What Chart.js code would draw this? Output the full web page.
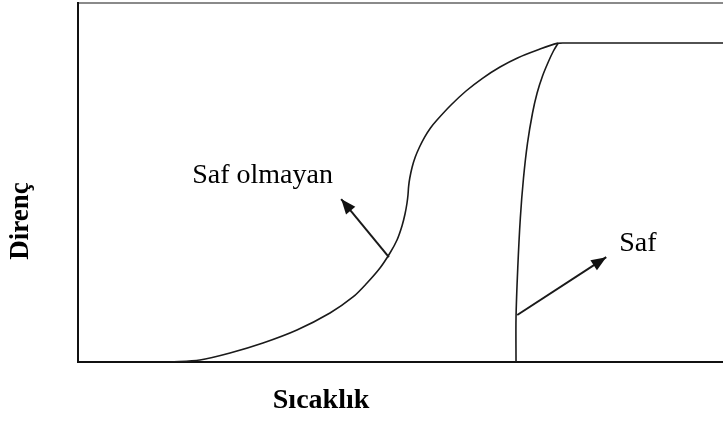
<!DOCTYPE html>
<html>
<head>
<meta charset="utf-8">
<script src="https://cdn.jsdelivr.net/npm/chart.js@4"></script>
<style>
  html, body { margin: 0; padding: 0; background: #fff; }
  #kutu { width: 723px; height: 426px; position: relative; }
</style>
</head>
<body>
<div id="kutu"><canvas id="direncChart"></canvas></div>
<script>
// Eğri verileri (sıcaklık = x, direnç = y; 0-100 keyfi birim)
const safOlmayanX = [14.3, 18.9, 23.57, 28.68, 33.95, 39.07, 42.64, 44.81, 46.82, 48.37, 49.46, 50.23, 50.70, 51.01, 51.16, 51.26, 51.44, 51.80, 52.29, 52.95, 53.72, 54.62, 55.66, 57.83, 60.16, 62.71, 65.43, 68.22, 71.24, 74.26, 75.81, 77.83, 100];
const safOlmayanY = [0, 0.56, 2.51, 5.29, 8.91, 13.65, 18.11, 22.01, 26.18, 30.36, 33.98, 37.88, 41.23, 44.29, 46.52, 48.91, 51.25, 54.26, 57.10, 59.89, 62.59, 65.13, 67.41, 71.59, 75.49, 79.03, 82.17, 84.76, 86.91, 88.75, 88.86, 88.86, 88.86];

const safX = [67.91, 67.91, 68.18, 68.58, 69.07, 69.69, 70.47, 71.18, 72.02, 72.91, 73.71, 74.45];
const safY = [0, 12.26, 26.18, 40.11, 51.25, 60.97, 69.36, 74.93, 79.67, 83.57, 86.63, 88.86];

// Oklar (başlangıç -> uç)
const okSafOlmayanX = [48.2, 40.8];
const okSafOlmayanY = [29.2, 45.4];
const okSafX = [68.1, 81.9];
const okSafY = [13.1, 29.2];

// Yazılar
const etiketMetin = ['Saf olmayan', 'Saf'];
const eksenX = 'Sıcaklık';
const eksenY = 'Direnç';

function noktalar(xs, ys) {
    return xs.map(function (x, i) { return { x: x, y: ys[i] }; });
}

// Ok başları
const okBasi = {
    id: 'okBasi',
    afterDatasetsDraw: function (chart) {
        var ctx = chart.ctx;
        chart.data.datasets.forEach(function (ds, i) {
            if (!ds.ok) return;
            var pts = chart.getDatasetMeta(i).data;
            var a = pts[pts.length - 2], b = pts[pts.length - 1];
            var ang = Math.atan2(b.y - a.y, b.x - a.x);
            var L = 15, W = 6;
            ctx.save();
            ctx.translate(b.x, b.y);
            ctx.rotate(ang);
            ctx.beginPath();
            ctx.moveTo(0, 0);
            ctx.lineTo(-L, -W);
            ctx.lineTo(-L, W);
            ctx.closePath();
            ctx.fillStyle = '#111';
            ctx.fill();
            ctx.restore();
        });
    }
};

// Etiketler ve eksen başlıkları (ölçek değerlerinden konumlanır)
const yazilar = {
    id: 'yazilar',
    afterDraw: function (chart) {
        var ctx = chart.ctx;
        var sx = chart.scales.x, sy = chart.scales.y;
        ctx.save();
        ctx.fillStyle = '#000';
        ctx.textBaseline = 'alphabetic';
        ctx.textAlign = 'left';
        ctx.font = '28px "Liberation Serif", "Times New Roman", serif';
        ctx.fillText(etiketMetin[0], sx.getPixelForValue(17.7), sy.getPixelForValue(49.9));
        ctx.fillText(etiketMetin[1], sx.getPixelForValue(83.9), sy.getPixelForValue(31.0));
        ctx.font = 'bold 28px "Liberation Serif", "Times New Roman", serif';
        ctx.fillText(eksenX, sx.getPixelForValue(30.2), sy.getPixelForValue(-12.8));
        ctx.translate(sx.getPixelForValue(-8.8), sy.getPixelForValue(39.3));
        ctx.rotate(-Math.PI / 2);
        ctx.textAlign = 'center';
        ctx.textBaseline = 'middle';
        ctx.font = 'bold 27px "Liberation Serif", "Times New Roman", serif';
        ctx.fillText(eksenY, 0, 0);
        ctx.restore();
    }
};

document.addEventListener("DOMContentLoaded", function () {
    var ctx = document.getElementById("direncChart");
    var cizgi = { showLine: true, pointRadius: 0, borderColor: '#1a1a1a', backgroundColor: '#1a1a1a', fill: false };

    new Chart(ctx, {
        type: 'scatter',
        data: {
            datasets: [
                Object.assign({ label: 'Saf olmayan', data: noktalar(safOlmayanX, safOlmayanY), borderWidth: 1.6, tension: 0.3 }, cizgi),
                Object.assign({ label: 'Saf', data: noktalar(safX, safY), borderWidth: 1.6, tension: 0.3 }, cizgi),
                Object.assign({ label: 'ok1', ok: true, data: noktalar(okSafOlmayanX, okSafOlmayanY), borderWidth: 2, tension: 0 }, cizgi),
                Object.assign({ label: 'ok2', ok: true, data: noktalar(okSafX, okSafY), borderWidth: 2, tension: 0 }, cizgi)
            ]
        },
        options: {
            responsive: true,
            maintainAspectRatio: false,
            animation: false,
            devicePixelRatio: 1,
            layout: { autoPadding: false, padding: { left: 78, right: 0, top: 3, bottom: 64 } },
            scales: {
                x: {
                    type: 'linear', position: 'bottom', min: 0, max: 100,
                    grid: { display: false, drawTicks: false },
                    ticks: { display: false },
                    border: { display: true, color: '#111', width: 2 }
                },
                x2: {
                    type: 'linear', position: 'top', min: 0, max: 100,
                    grid: { display: false, drawTicks: false },
                    ticks: { display: false },
                    border: { display: true, color: '#8a8a8a', width: 2 }
                },
                y: {
                    type: 'linear', position: 'left', min: 0, max: 100,
                    grid: { display: false, drawTicks: false },
                    ticks: { display: false },
                    border: { display: true, color: '#111', width: 2 }
                }
            },
            plugins: {
                legend: { display: false },
                tooltip: { enabled: false }
            }
        },
        plugins: [okBasi, yazilar]
    });
});
</script>
</body>
</html>
